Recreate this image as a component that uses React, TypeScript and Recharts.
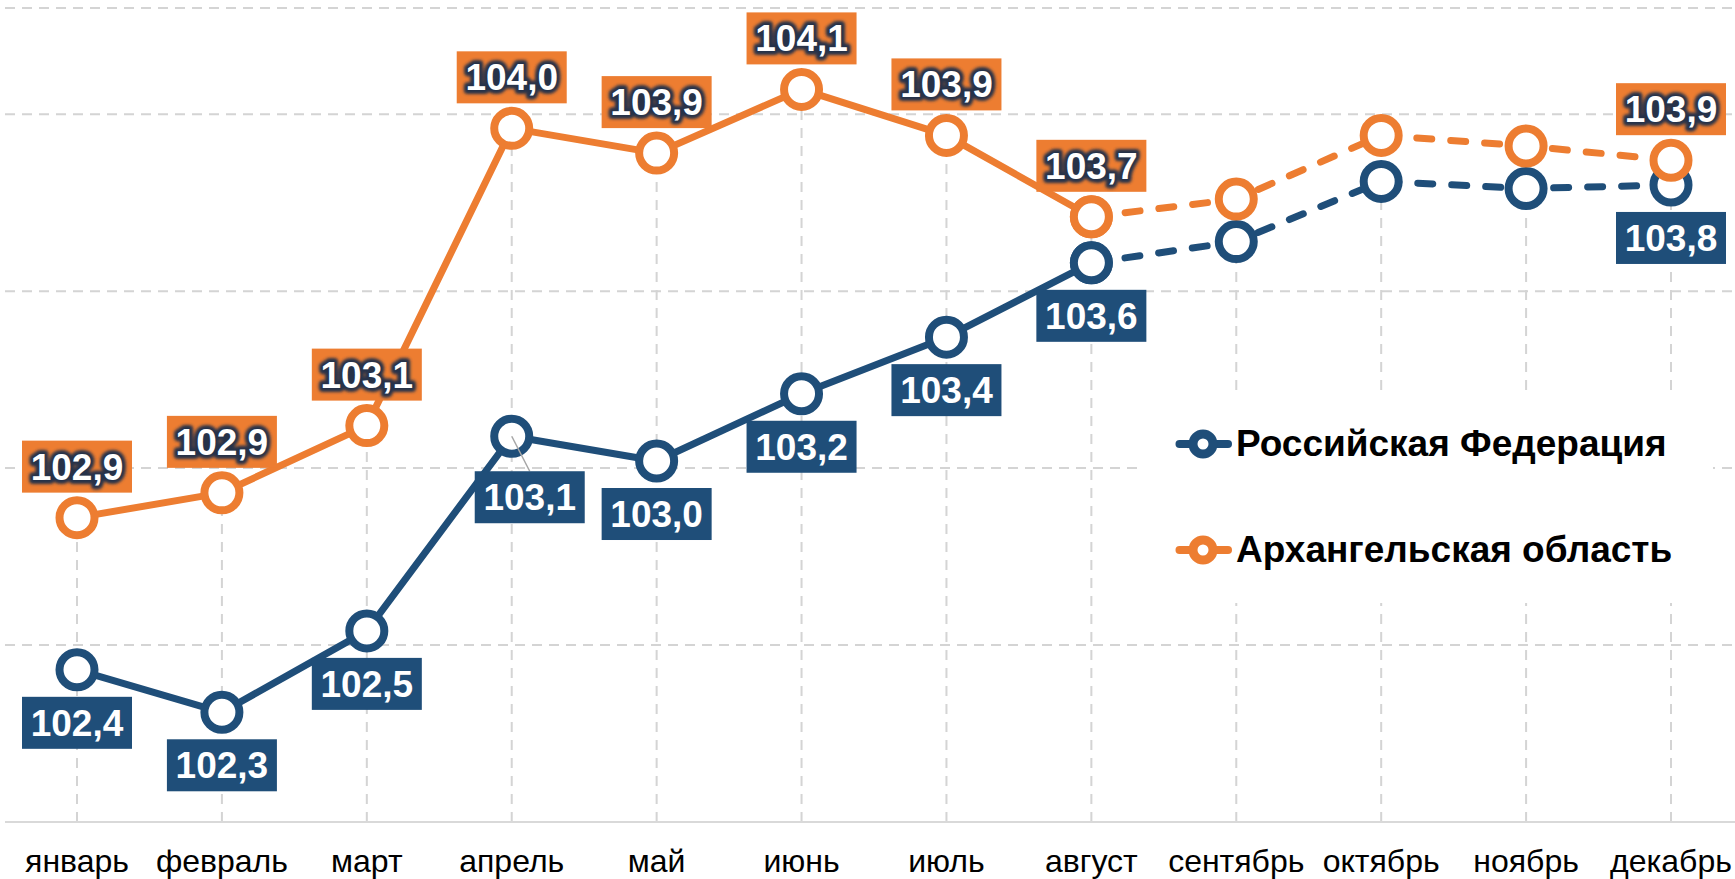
import React from "react"
import {
    LineChart,
    Line,
    XAxis,
    YAxis,
    CartesianGrid,
    ReferenceLine,
    Legend,
    LabelList,
} from "recharts"

const MONTHS = ["январь", "февраль", "март", "апрель", "май", "июнь", "июль", "август", "сентябрь", "октябрь", "ноябрь", "декабрь"]
const RF_VALUES = [102.43, 102.31, 102.54, 103.09, 103.02, 103.21, 103.37, 103.58, 103.64, 103.81, 103.79, 103.8]
const AO_VALUES = [102.86, 102.93, 103.12, 103.96, 103.89, 104.07, 103.94, 103.71, 103.76, 103.94, 103.91, 103.87]
const RF_NAME = "Российская Федерация"
const AO_NAME = "Архангельская область"
const SERIES_ORDER = [RF_NAME, AO_NAME]
const LAST_ACTUAL = 7 // август, after it the lines are dashed
const Y_TICKS = [102, 102.5, 103, 103.5, 104]

const BLUE = "#1F4E79"
const ORANGE = "#ED7D31"
const GRID = "#d4d4d4"
const FONT = "'Liberation Sans', Arial, sans-serif"

const data = MONTHS.map((month, i) => ({
    month,
    rf: i <= LAST_ACTUAL ? RF_VALUES[i] : null,
    rfEst: i >= LAST_ACTUAL ? RF_VALUES[i] : null,
    ao: i <= LAST_ACTUAL ? AO_VALUES[i] : null,
    aoEst: i >= LAST_ACTUAL ? AO_VALUES[i] : null,
}))

const fmt = (v: number) => (Math.round(v * 10) / 10).toFixed(1).replace(".", ",")

function ringDot(color: string) {
    return (props: any) => {
        const { cx, cy, value, index } = props
        if (value == null || cx == null || cy == null) return <g key={index} />
        return <circle key={index} cx={cx} cy={cy} r={17.5} fill="#fff" stroke={color} strokeWidth={8} />
    }
}

function boxLabel(color: string, below: boolean, onlyLast: boolean) {
    return (props: any) => {
        const { value, index } = props
        const x = props.x ?? props.viewBox?.x
        const y = props.y ?? props.viewBox?.y
        if (value == null || x == null || y == null) return null
        if (onlyLast && index !== MONTHS.length - 1) return null
        // апрель: the label of RF is pushed aside, with a leader line
        const dx = below && index === 3 ? 18 : 0
        const dy = below && index === 3 ? 8 : 0
        const w = 110
        const h = 52
        const top = below ? y + 27 + dy : y - 25 - h
        const cx = x + dx
        const text = fmt(Number(value))
        return (
            <g>
                {dx !== 0 && <line x1={x} y1={y} x2={cx} y2={top} stroke="#a6a6a6" strokeWidth={1.5} />}
                <rect x={cx - w / 2} y={top} width={w} height={h} fill={color} />
                {!below && (
                    <>
                        <defs>
                            <filter id="lblGlow" x="-20%" y="-40%" width="140%" height="180%">
                                <feGaussianBlur stdDeviation="1.8" />
                            </filter>
                        </defs>
                        <text
                            x={cx}
                            y={top + h / 2 + 13}
                            textAnchor="middle"
                            fontFamily={FONT}
                            fontSize={37}
                            fontWeight={700}
                            fill="#26324a"
                            stroke="#26324a"
                            strokeWidth={8}
                            strokeLinejoin="round"
                            filter="url(#lblGlow)"
                        >
                            {text}
                        </text>
                    </>
                )}
                <text
                    x={cx}
                    y={top + h / 2 + 13}
                    textAnchor="middle"
                    fontFamily={FONT}
                    fontSize={37}
                    fontWeight={700}
                    fill="#fff"
                >
                    {text}
                </text>
            </g>
        )
    }
}

const MonthTick = (props: any) => {
    const { x, y, payload } = props
    return (
        <text x={x} y={y + 50} textAnchor="middle" fontFamily={FONT} fontSize={32} fill="#000">
            {payload.value}
        </text>
    )
}

const LegendBox = (props: any) => {
    const items = (props.payload || [])
        .filter((p: any) => p.type !== "none")
        .sort((a: any, b: any) => SERIES_ORDER.indexOf(a.value) - SERIES_ORDER.indexOf(b.value))
    return (
        <div style={{ position: "relative", width: 571, height: 211, background: "#fff", fontFamily: FONT }}>
            {items.map((item: any, i: number) => {
                const center = i === 0 ? 52 : 158
                return (
                    <div key={item.value} style={{ position: "absolute", left: 0, top: center - 25, height: 50, width: 571 }}>
                        <svg width={94} height={50} style={{ position: "absolute", left: 0, top: 0 }}>
                            <line x1={37.5} x2={86} y1={25} y2={25} stroke={item.color} strokeWidth={8} strokeLinecap="round" />
                            <circle cx={61} cy={25} r={10} fill="#fff" stroke={item.color} strokeWidth={9} />
                        </svg>
                        <span
                            style={{
                                position: "absolute",
                                left: 94,
                                top: 0,
                                lineHeight: "50px",
                                fontSize: 37,
                                fontWeight: 700,
                                color: "#000",
                                whiteSpace: "nowrap",
                            }}
                        >
                            {item.value}
                        </span>
                    </div>
                )
            })}
        </div>
    )
}

export default function App() {
    return (
        <div style={{ position: "absolute", left: 0, top: 0, width: 1735, height: 879, background: "#fff", fontFamily: FONT }}>
            <LineChart width={1735} height={879} data={data} margin={{ top: 8, right: 0, left: 5, bottom: 0 }}>
                <CartesianGrid vertical={false} stroke={GRID} strokeWidth={2} strokeDasharray="10 7" />
                <XAxis
                    dataKey="month"
                    height={57}
                    padding={{ left: 72, right: 64 }}
                    tickLine={false}
                    tickSize={0}
                    tickMargin={0}
                    axisLine={{ stroke: "#d9d9d9", strokeWidth: 2 }}
                    tick={<MonthTick />}
                    interval={0}
                />
                <YAxis hide type="number" domain={[102, 104.3]} ticks={Y_TICKS} />
                {MONTHS.map((m, i) => (
                    <ReferenceLine
                        key={m}
                        segment={[
                            { x: m, y: 102 },
                            { x: m, y: Math.max(RF_VALUES[i], AO_VALUES[i]) },
                        ]}
                        stroke={GRID}
                        strokeWidth={2}
                        strokeDasharray="10 8"
                        ifOverflow="visible"
                    />
                ))}
                <Legend
                    layout="vertical"
                    align="center"
                    verticalAlign="middle"
                    content={<LegendBox />}
                    wrapperStyle={{ left: 1142, top: 392, width: 571, height: 211 }}
                />
                <Line
                    name={RF_NAME}
                    dataKey="rf"
                    stroke={BLUE}
                    strokeWidth={7}
                    strokeLinejoin="round"
                    dot={ringDot(BLUE)}
                    activeDot={false}
                    isAnimationActive={false}
                >
                    <LabelList dataKey="rf" content={boxLabel(BLUE, true, false)} />
                </Line>
                <Line
                    name={RF_NAME + " (оценка)"}
                    dataKey="rfEst"
                    stroke={BLUE}
                    strokeWidth={7}
                    strokeDasharray="15 19"
                    strokeLinecap="round"
                    legendType="none"
                    dot={ringDot(BLUE)}
                    activeDot={false}
                    isAnimationActive={false}
                >
                    <LabelList dataKey="rfEst" content={boxLabel(BLUE, true, true)} />
                </Line>
                <Line
                    name={AO_NAME}
                    dataKey="ao"
                    stroke={ORANGE}
                    strokeWidth={7}
                    strokeLinejoin="round"
                    dot={ringDot(ORANGE)}
                    activeDot={false}
                    isAnimationActive={false}
                >
                    <LabelList dataKey="ao" content={boxLabel(ORANGE, false, false)} />
                </Line>
                <Line
                    name={AO_NAME + " (оценка)"}
                    dataKey="aoEst"
                    stroke={ORANGE}
                    strokeWidth={7}
                    strokeDasharray="15 19"
                    strokeLinecap="round"
                    legendType="none"
                    dot={ringDot(ORANGE)}
                    activeDot={false}
                    isAnimationActive={false}
                >
                    <LabelList dataKey="aoEst" content={boxLabel(ORANGE, false, true)} />
                </Line>
            </LineChart>
        </div>
    )
}
